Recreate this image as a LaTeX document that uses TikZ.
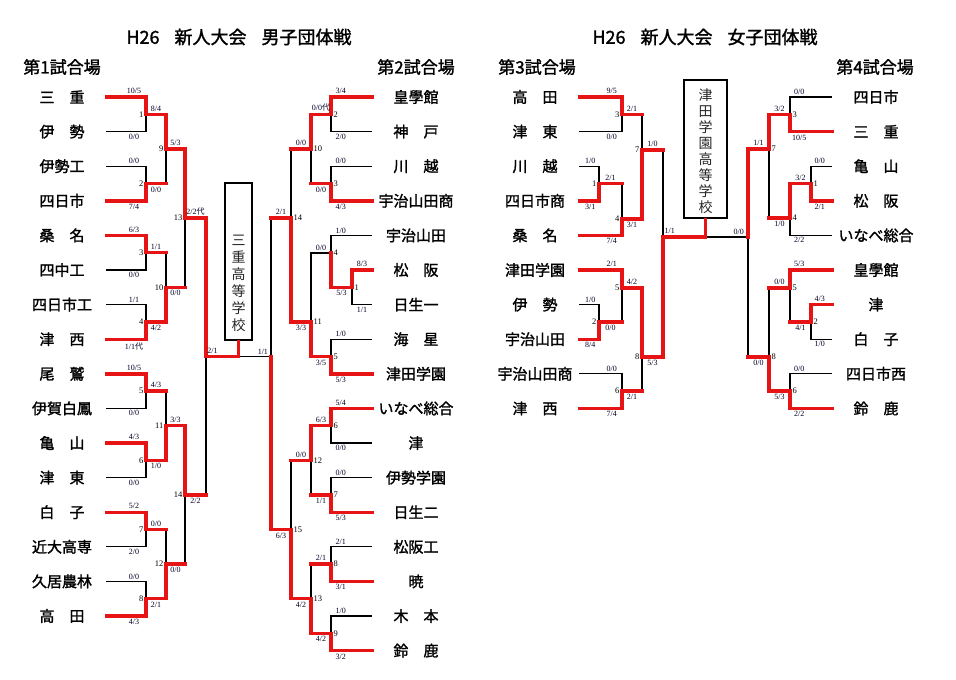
\documentclass[tikz,border=0pt]{standalone}
\usepackage{fontspec}
\setmainfont{Liberation Serif}
\newfontfamily\jp{Noto Sans CJK JP}
\newfontfamily\jpb[FakeBold=1.5]{Noto Sans CJK JP}
\usetikzlibrary{calc}
\definecolor{kred}{RGB}{230,20,20}

\tikzset{
  win/.style={kred, line width=3.4pt, line cap=rect},
  lose/.style={black, line width=1.3pt},
  team/.style={font=\jpb\fontsize{15}{15}\selectfont, minimum width=88pt, inner sep=0pt},
  sc/.style={font=\fontsize{8}{8}\selectfont, text=black!85!blue, inner sep=1.5pt},
  num/.style={font=\fontsize{8.5}{8.5}\selectfont, inner sep=0pt},
  head/.style={font=\jpb\fontsize{17}{17}\selectfont, inner sep=0pt},
  ttl/.style={font=\jpb\fontsize{18}{18}\selectfont, inner sep=0pt},
  champ/.style={draw, line width=2.4pt, inner sep=0pt},
  champtxt/.style={font=\jp\fontsize{14}{17}\selectfont, text=black!85, align=center, inner sep=0pt},
}

\begin{document}
\begin{tikzpicture}[x=1pt,y=-1pt]
\useasboundingbox (0,0) rectangle (956,680);

% titles
\node[ttl] (ttlM) at (239,37) {H26\hspace{15pt}新人大会\hspace{15pt}男子団体戦};
\node[ttl] (ttlF) at (705,37) {H26\hspace{15pt}新人大会\hspace{15pt}女子団体戦};
\node[head] (ct1) at (62,67) {第1試合場};
\node[head] (ct2) at (416,67) {第2試合場};
\node[head] (ct3) at (537,67) {第3試合場};
\node[head] (ct4) at (875,67) {第4試合場};

% teams
\foreach \i/\t in {1/三　重,2/伊　勢,3/伊勢工,4/四日市,5/桑　名,6/四中工,7/四日市工,8/津　西,
  9/尾　鷲,10/伊賀白鳳,11/亀　山,12/津　東,13/白　子,14/近大高専,15/久居農林,16/高　田}
  \node[team] (L\i) at (62,{62.4+34.6*\i}) {\t};
\foreach \i/\t in {1/皇學館,2/神　戸,3/川　越,4/宇治山田商,5/宇治山田,6/松　阪,7/日生一,8/海　星,9/津田学園,
  10/いなべ総合,11/津,12/伊勢学園,13/日生二,14/松阪工,15/暁,16/木　本,17/鈴　鹿}
  \node[team] (R\i) at (416,{62.4+34.6*\i}) {\t};
\foreach \i/\t in {1/高　田,2/津　東,3/川　越,4/四日市商,5/桑　名,6/津田学園,7/伊　勢,8/宇治山田,9/宇治山田商,10/津　西}
  \node[team] (G\i) at (535,{62.4+34.6*\i}) {\t};
\foreach \i/\t in {1/四日市,2/三　重,3/亀　山,4/松　阪,5/いなべ総合,6/皇學館,7/津,8/白　子,9/四日市西,10/鈴　鹿}
  \node[team] (H\i) at (876,{62.4+34.6*\i}) {\t};

% match points
\foreach \m/\x/\y in {1/146/114.3,2/146/183.5,3/146/252.7,4/146/321.9,5/146/391.1,6/146/460.3,7/146/529.5,
  8/146/598.7,9/166/148.9,10/166/287.3,11/166/425.7,12/166/564.1,13/185/218.1,14/185/494.9}
  \coordinate (a\m) at (\x,\y);
\coordinate (aF) at (206,356.5);
\foreach \m/\x/\y in {1/352/287.3,2/331/114.3,3/331/183.5,4/331/253,5/331/356.5,6/331/425.7,7/331/494.9,
  8/331/564.1,9/331/633.3,10/311/148.9,11/311/322,12/311/460.3,13/311/598.7,14/291/218,15/291/529.5}
  \coordinate (b\m) at (\x,\y);
\coordinate (bF) at (271,356.5);
\foreach \m/\x/\y in {1/599/183.5,2/599/321.9,3/622/114.3,4/622/219,5/622/288,6/622/391.1,7/642/150,8/642/357}
  \coordinate (c\m) at (\x,\y);
\coordinate (cF) at (663,237);
\foreach \m/\x/\y in {1/811/183.5,2/811/321.9,3/790/114.3,4/790/218,5/790/288,6/790/391.1,7/769/149,8/769/357}
  \coordinate (d\m) at (\x,\y);
\coordinate (dF) at (748,237);

% winners' boxes
\node[champ, minimum width=27pt, minimum height=157pt] (boxM) at (238.5,261.5) {};
\node[champtxt] (txtM) at (238.5,283) {三\\重\\高\\等\\学\\校};
\node[champ, minimum width=43pt, minimum height=138pt] (boxF) at (705.5,149) {};
\node[champtxt, font=\jp\fontsize{14}{16}\selectfont] (txtF) at (705.5,151.5) {津\\田\\学\\園\\高\\等\\学\\校};
\coordinate (jM) at (boxM.south |- aF);
\coordinate (jF) at (boxF.south |- cF);

% ---- black lines ----
\draw[lose] (L2.east) -| node[sc,below,pos=.35]{0/0} (a1);
\draw[lose] (L3.east) -| node[sc,above,pos=.35]{0/0} (a2);
\draw[lose] (L6.east) -| node[sc,below,pos=.35]{0/0} (a3);
\draw[lose] (L7.east) -| node[sc,above,pos=.35]{1/1} (a4);
\draw[lose] (L10.east) -| node[sc,below,pos=.35]{0/0} (a5);
\draw[lose] (L12.east) -| node[sc,below,pos=.35]{0/0} (a6);
\draw[lose] (L14.east) -| node[sc,below,pos=.35]{2/0} (a7);
\draw[lose] (L15.east) -| node[sc,above,pos=.35]{0/0} (a8);
\draw[lose] (a2) -| (a9);
\draw[lose] (a3) -| (a10);
\draw[lose] (a5) -| (a11);
\draw[lose] (a7) -| (a12);
\draw[lose] (a10) -| (a13);
\draw[lose] (a12) -| (a14);
\draw[lose] (a14) -| (aF);

\draw[lose] (R2.west) -| node[sc,below,pos=.38]{2/0} (b2);
\draw[lose] (R3.west) -| node[sc,above,pos=.38]{0/0} (b3);
\draw[lose] (R5.west) -| node[sc,above,pos=.38]{1/0} (b4);
\draw[lose] (R7.west) -| node[sc,below,pos=.25]{1/1} (b1);
\draw[lose] (R8.west) -| node[sc,above,pos=.38]{1/0} (b5);
\draw[lose] (R11.west) -| node[sc,below,pos=.38]{0/0} (b6);
\draw[lose] (R12.west) -| node[sc,above,pos=.38]{0/0} (b7);
\draw[lose] (R14.west) -| node[sc,above,pos=.38]{2/1} (b8);
\draw[lose] (R16.west) -| node[sc,above,pos=.38]{1/0} (b9);
\draw[lose] (b4) -| node[sc,above,pos=.25]{0/0} (b11);
\draw[lose] (b3) -| (b10);
\draw[lose] (b7) -| (b12);
\draw[lose] (b8) -| (b13);
\draw[lose] (b10) -| (b14);
\draw[lose] (b12) -| (b15);
\draw[lose] (b14) -| (bF);
\draw[lose] (jM) -- node[sc,above,pos=.75]{1/1} (bF);

\draw[lose] (G2.east) -| node[sc,below,pos=.38]{0/0} (c3);
\draw[lose] (G3.east) -| node[sc,above,pos=.28]{1/0} (c1);
\draw[lose] (G7.east) -| node[sc,above,pos=.28]{1/0} (c2);
\draw[lose] (G9.east) -| node[sc,above,pos=.38]{0/0} (c6);
\draw[lose] (c1) -| (c4);
\draw[lose] (c3) -| (c7);
\draw[lose] (c2) -| (c5);
\draw[lose] (c6) -| (c8);
\draw[lose] (c7) -| (cF);

\draw[lose] (H1.west) -| node[sc,above,pos=.39]{0/0} (d3);
\draw[lose] (H3.west) -| node[sc,above,pos=.29]{0/0} (d1);
\draw[lose] (H5.west) -| node[sc,below,pos=.39]{2/2} (d4);
\draw[lose] (H8.west) -| node[sc,below,pos=.29]{1/0} (d2);
\draw[lose] (H9.west) -| node[sc,above,pos=.39]{0/0} (d6);
\draw[lose] (d4) -| (d7);
\draw[lose] (d2) -| (d5);
\draw[lose] (d5) -| (d8);
\draw[lose] (d8) -| (dF);
\draw[lose] (jF) -- node[sc,above,pos=.78]{0/0} (dF);

% ---- red lines ----
\draw[win] (L1.east) -| node[sc,above,pos=.35]{10/5} (a1);
\draw[win] (L4.east) -| node[sc,below,pos=.35]{7/4} (a2);
\draw[win] (L5.east) -| node[sc,above,pos=.35]{6/3} (a3);
\draw[win] (L8.east) -| node[sc,below,pos=.35]{1/1{\jp 代}} (a4);
\draw[win] (L9.east) -| node[sc,above,pos=.35]{10/5} (a5);
\draw[win] (L11.east) -| node[sc,above,pos=.35]{4/3} (a6);
\draw[win] (L13.east) -| node[sc,above,pos=.35]{5/2} (a7);
\draw[win] (L16.east) -| node[sc,below,pos=.35]{4/3} (a8);
\draw[win] (a1) -| node[sc,above,pos=.25]{8/4} (a9);
\draw[win] (a4) -| node[sc,below,pos=.25]{4/2} (a10);
\draw[win] (a6) -| node[sc,below,pos=.25]{1/0} (a11);
\draw[win] (a8) -| node[sc,below,pos=.25]{2/1} (a12);
\draw[win] (a9) -| node[sc,above,pos=.25]{5/3} (a13);
\draw[win] (a11) -| node[sc,above,pos=.25]{3/3} (a14);
\draw[win] (a13) -| node[sc,above,pos=.25]{2/2{\jp 代}} (aF);
\draw[win] (a2) -- node[sc,below]{0/0} (a2 -| a9);
\draw[win] (a3) -- node[sc,above]{1/1} (a3 -| a10);
\draw[win] (a5) -- node[sc,above]{4/3} (a5 -| a11);
\draw[win] (a7) -- node[sc,above]{0/0} (a7 -| a12);
\draw[win] (a10) -- node[sc,below]{0/0} (a10 -| a13);
\draw[win] (a12) -- node[sc,below]{0/0} (a12 -| a14);
\draw[win] (a14) -- node[sc,below]{2/2} (a14 -| aF);
\draw[win] (aF) -- node[sc,above,pos=.2]{2/1} (jM) -- (boxM.south);

\draw[win] (R1.west) -| node[sc,above,pos=.38]{3/4} (b2);
\draw[win] (R4.west) -| node[sc,below,pos=.38]{4/3} (b3);
\draw[win] (R6.west) -| node[sc,above,pos=.25]{8/3} (b1);
\draw[win] (R9.west) -| node[sc,below,pos=.38]{5/3} (b5);
\draw[win] (R10.west) -| node[sc,above,pos=.38]{5/4} (b6);
\draw[win] (R13.west) -| node[sc,below,pos=.38]{5/3} (b7);
\draw[win] (R15.west) -| node[sc,below,pos=.38]{3/1} (b8);
\draw[win] (R17.west) -| node[sc,below,pos=.38]{3/2} (b9);
\draw[win] (b1) -| node[sc,below,pos=.25]{5/3} (b4);
\draw[win] (b2) -| node[sc,above,pos=.25]{0/0{\jp 代}} (b10);
\draw[win] (b5) -| node[sc,below,pos=.25]{3/5} (b11);
\draw[win] (b6) -| node[sc,above,pos=.25]{6/3} (b12);
\draw[win] (b9) -| node[sc,below,pos=.25]{4/2} (b13);
\draw[win] (b11) -| node[sc,below,pos=.25]{3/3} (b14);
\draw[win] (b13) -| node[sc,below,pos=.25]{4/2} (b15);
\draw[win] (b15) -| node[sc,below,pos=.25]{6/3} (bF);
\draw[win] (b3) -- node[sc,below]{0/0} (b3 -| b10);
\draw[win] (b7) -- node[sc,below]{1/1} (b7 -| b12);
\draw[win] (b8) -- node[sc,above]{2/1} (b8 -| b13);
\draw[win] (b10) -- node[sc,above]{0/0} (b10 -| b14);
\draw[win] (b12) -- node[sc,above]{0/0} (b12 -| b15);
\draw[win] (b14) -- node[sc,above]{2/1} (b14 -| bF);

\draw[win] (G1.east) -| node[sc,above,pos=.38]{9/5} (c3);
\draw[win] (G4.east) -| node[sc,below,pos=.28]{3/1} (c1);
\draw[win] (G5.east) -| node[sc,below,pos=.38]{7/4} (c4);
\draw[win] (G6.east) -| node[sc,above,pos=.38]{2/1} (c5);
\draw[win] (G8.east) -| node[sc,below,pos=.28]{8/4} (c2);
\draw[win] (G10.east) -| node[sc,below,pos=.38]{7/4} (c6);
\draw[win] (c4) -| node[sc,below,pos=.25]{3/1} (c7);
\draw[win] (c5) -| node[sc,above,pos=.25]{4/2} (c8);
\draw[win] (c8) -| node[sc,below,pos=.25]{5/3} (cF);
\draw[win] (c1) -- node[sc,above]{2/1} (c1 -| c4);
\draw[win] (c3) -- node[sc,above]{2/1} (c3 -| c7);
\draw[win] (c2) -- node[sc,below]{0/0} (c2 -| c5);
\draw[win] (c6) -- node[sc,below]{2/1} (c6 -| c8);
\draw[win] (c7) -- node[sc,above]{1/0} (c7 -| cF);
\draw[win] (cF) -- node[sc,above,pos=.16]{1/1} (jF) -- (boxF.south);

\draw[win] (H2.west) -| node[sc,below,pos=.39]{10/5} (d3);
\draw[win] (H4.west) -| node[sc,below,pos=.29]{2/1} (d1);
\draw[win] (H6.west) -| node[sc,above,pos=.39]{5/3} (d5);
\draw[win] (H7.west) -| node[sc,above,pos=.29]{4/3} (d2);
\draw[win] (H10.west) -| node[sc,below,pos=.39]{2/2} (d6);
\draw[win] (d1) -| node[sc,above,pos=.25]{3/2} (d4);
\draw[win] (d3) -| node[sc,above,pos=.25]{3/2} (d7);
\draw[win] (d6) -| node[sc,below,pos=.25]{5/3} (d8);
\draw[win] (d7) -| node[sc,above,pos=.25]{1/1} (dF);
\draw[win] (d4) -- node[sc,below]{1/0} (d4 -| d7);
\draw[win] (d2) -- node[sc,below]{4/1} (d2 -| d5);
\draw[win] (d5) -- node[sc,above]{0/0} (d5 -| d8);
\draw[win] (d8) -- node[sc,below]{0/0} (d8 -| dF);

% match numbers
\foreach \m in {1,...,14} \node[num, anchor=east] (na\m) at ([xshift=-2.5pt]a\m) {\m};
\foreach \m in {1,...,15} \node[num, anchor=west] (nb\m) at ([xshift=2.5pt]b\m) {\m};
\foreach \m in {1,...,8} \node[num, anchor=east] (nc\m) at ([xshift=-2.5pt]c\m) {\m};
\foreach \m in {1,...,8} \node[num, anchor=west] (nd\m) at ([xshift=2.5pt]d\m) {\m};
\end{tikzpicture}
\end{document}
